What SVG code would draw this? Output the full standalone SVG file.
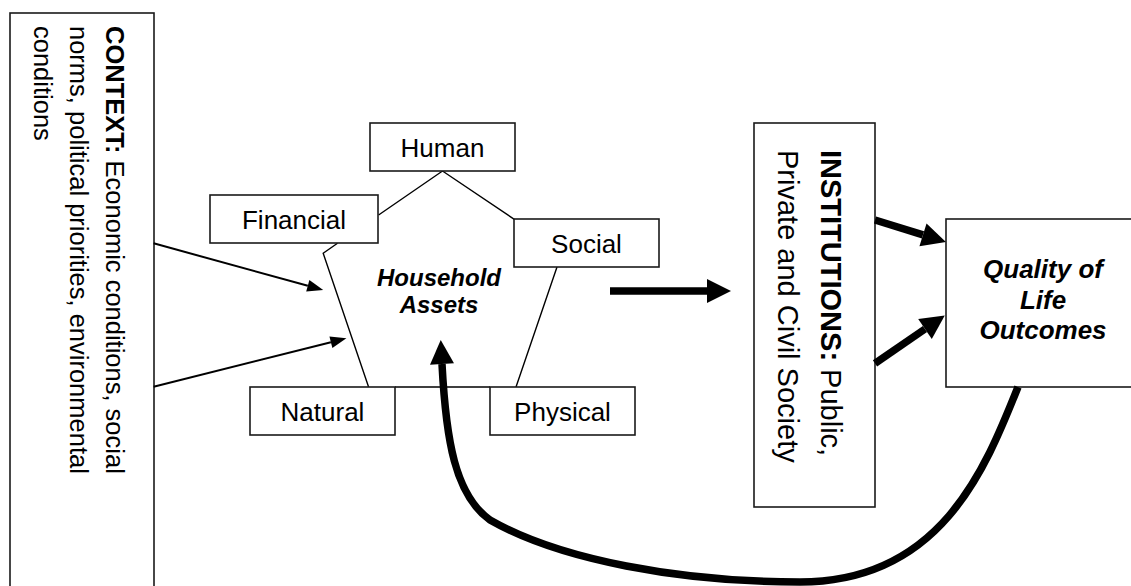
<svg xmlns="http://www.w3.org/2000/svg" width="1131" height="586" viewBox="0 0 1131 586">
<defs>
<style>
.box{fill:#fff;stroke:#1a1a1a;stroke-width:1.6}
.t{font-family:"Liberation Sans",Arial,sans-serif;fill:#000}
.lbl{font-size:26px;text-anchor:middle}
.bi{font-weight:bold;font-style:italic;text-anchor:middle}
.pent{fill:none;stroke:#000;stroke-width:1.4}
.thin{fill:none;stroke:#000;stroke-width:2}
.thick{fill:none;stroke:#000;stroke-width:7.5}
</style>
<marker id="hThin" markerUnits="userSpaceOnUse" markerWidth="16" markerHeight="12" viewBox="0 0 16 12" refX="0" refY="6" orient="auto" overflow="visible"><path d="M0,0 L16,6 L0,12 z" fill="#000"/></marker>
<marker id="hThick" markerUnits="userSpaceOnUse" markerWidth="24" markerHeight="24" viewBox="0 0 24 24" refX="0" refY="12" orient="auto" overflow="visible"><path d="M0,0 L24,12 L0,24 z" fill="#000"/></marker>
</defs>
<rect width="1131" height="586" fill="#fff"/>

<g id="context">
<rect class="box" x="10" y="13" width="144" height="600"/>
<text class="t" font-size="25.5" transform="translate(106,26) rotate(90)"><tspan x="0" y="0" font-weight="bold">CONTEXT:</tspan><tspan> Economic conditions, social</tspan><tspan x="0" y="36">norms, political priorities, environmental</tspan><tspan x="0" y="72">conditions</tspan></text>
</g>

<g id="pentagon">
<path class="pent" d="M378.6,215 L442.5,171 L514.3,219.3 M337.5,243.3 L323.2,253.3 L368.6,387 M557,267 L516,387 M395,387 L490,387"/>
</g>

<g id="human"><rect class="box" x="370" y="123" width="145" height="48"/><text class="t lbl" x="442.5" y="157">Human</text></g>
<g id="financial"><rect class="box" x="210" y="195" width="168" height="48"/><text class="t lbl" x="294" y="229">Financial</text></g>
<g id="social"><rect class="box" x="514" y="219" width="145" height="48"/><text class="t lbl" x="586.5" y="253">Social</text></g>
<g id="natural"><rect class="box" x="250" y="387" width="145" height="48"/><text class="t lbl" x="322.5" y="421">Natural</text></g>
<g id="physical"><rect class="box" x="490" y="387" width="145" height="48"/><text class="t lbl" x="562.5" y="421">Physical</text></g>

<g id="household"><text class="t bi" font-size="24" x="439" y="285.5">Household</text><text class="t bi" font-size="24" x="439" y="312.5">Assets</text></g>

<g id="institutions">
<rect class="box" x="754" y="123" width="121" height="384"/>
<text class="t" font-size="29" transform="translate(821,150) rotate(90)"><tspan x="0" y="0" font-weight="bold">INSTITUTIONS:</tspan><tspan> Public,</tspan><tspan x="0" y="43">Private and Civil Society</tspan></text>
</g>

<g id="quality">
<rect class="box" x="946" y="219" width="200" height="168"/>
<text class="t bi" font-size="26" x="1043" y="278">Quality of</text>
<text class="t bi" font-size="26" x="1043" y="308.5">Life</text>
<text class="t bi" font-size="26" x="1043" y="339">Outcomes</text>
</g>

<g id="connectors">
<path class="thin" d="M153.6,243.3 L307.8,285.8" marker-end="url(#hThin)"/>
<path class="thin" d="M153.6,386.7 L330.9,342.2" marker-end="url(#hThin)"/>
<path class="thick" d="M610,291 L707,291" marker-end="url(#hThick)"/>
<path class="thick" d="M875,220 L923,234.9" marker-end="url(#hThick)"/>
<path class="thick" d="M875,363.3 L925,329" marker-end="url(#hThick)"/>
<path class="thick" d="M1018,387 C985,470 940,582 800,582 C680,582 560,560 490,520 C455,495 446,440 442,364" marker-end="url(#hThick)"/>
</g>
</svg>
